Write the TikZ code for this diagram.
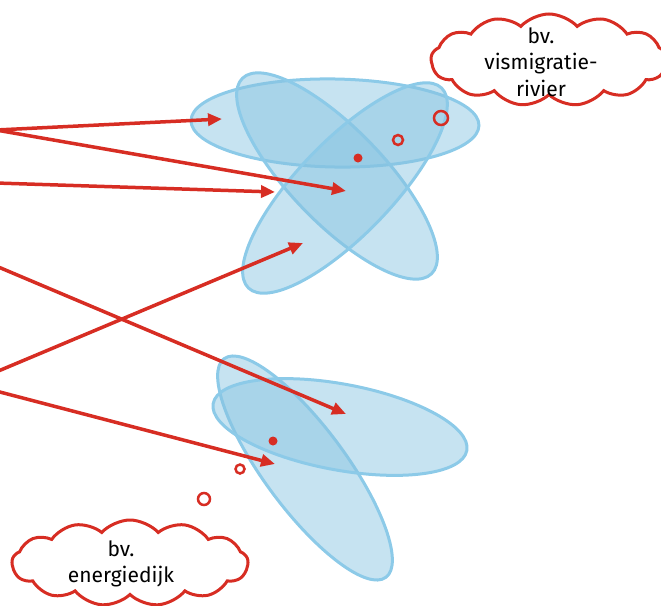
\documentclass[tikz,border=0pt]{standalone}
\usepackage{fontspec}
\setmainfont{Fira Sans}
\usetikzlibrary{shapes,arrows.meta,positioning}

\definecolor{zoneblauw}{RGB}{134,195,225}
\definecolor{zonerand}{RGB}{140,202,232}
\definecolor{pijlrood}{RGB}{215,45,35}

\tikzset{
  zone/.style={fill=zoneblauw, fill opacity=0.47, draw=zonerand, draw opacity=1, line width=3pt},
  pijl/.style={pijlrood, line width=3.5pt, -{Triangle[length=14pt,width=12pt]}},
  wolk/.style={cloud, cloud puffs=13, cloud puff arc=95, cloud ignores aspect, draw=pijlrood,
    line width=3pt, fill=white, minimum width=236pt, minimum height=92pt, inner sep=0pt},
  wolktekst/.style={align=center, font=\fontsize{21}{26.5}\selectfont, inner sep=0pt},
  stip/.style={circle, fill=pijlrood, inner sep=0pt, minimum size=9pt},
  bel/.style={circle, draw=pijlrood, line width=2.5pt, inner sep=0pt}
}

\begin{document}
\begin{tikzpicture}[x=1pt, y=-1pt]
\useasboundingbox (0,0) rectangle (661,605);

% Zones boven
\foreach \x/\y/\a/\b/\r in {335/123/144/44/-1, 337/176/136/47/-46, 345/188/139/47/46}
  \draw[zone, rotate around={\r:(\x,\y)}] (\x,\y) ellipse ({\a} and {\b});

% Zones onder
\foreach \x/\y/\a/\b/\r in {305/468/136/41/-53.5, 340/427/129/43/-10.5}
  \draw[zone, rotate around={\r:(\x,\y)}] (\x,\y) ellipse ({\a} and {\b});

% Pijlen
\coordinate (l1) at (-4,130);
\coordinate (l2) at (-4,183);
\coordinate (l3) at (-4,266);
\coordinate (l4) at (-4,372);
\coordinate (l5) at (-4,391);
\coordinate (d1) at (222,119);
\coordinate (d2) at (346,191);
\coordinate (d3) at (275,192);
\coordinate (d4) at (346,414);
\coordinate (d5) at (303,243);
\coordinate (d6) at (275,464);
\draw[pijl] (l1) -- (d1);
\draw[pijl] (l1) -- (d2);
\draw[pijl] (l2) -- (d3);
\draw[pijl] (l3) -- (d4);
\draw[pijl] (l4) -- (d5);
\draw[pijl] (l5) -- (d6);

% Stippen en bellen
\node[stip] (stipboven) at (358,158) {};
\node[bel, minimum size=10pt] (belboven1) at (398,140) {};
\node[bel, minimum size=14pt] (belboven2) at (441,118) {};
\node[stip] (stiponder) at (273,441) {};
\node[bel, minimum size=9pt] (belonder1) at (240,469) {};
\node[bel, minimum size=12pt] (belonder2) at (204,499) {};

% Wolken
\node[wolk] (wolkboven) at (549,60) {};
\node[wolktekst] (tekstboven) at (541,62) {bv.\\vismigratie-\\rivier};
\node[wolk, minimum height=86pt] (wolkonder) at (130,563) {};
\node[wolktekst] (tekstonder) at (121,564) {bv.\\energiedijk};
\end{tikzpicture}
\end{document}
